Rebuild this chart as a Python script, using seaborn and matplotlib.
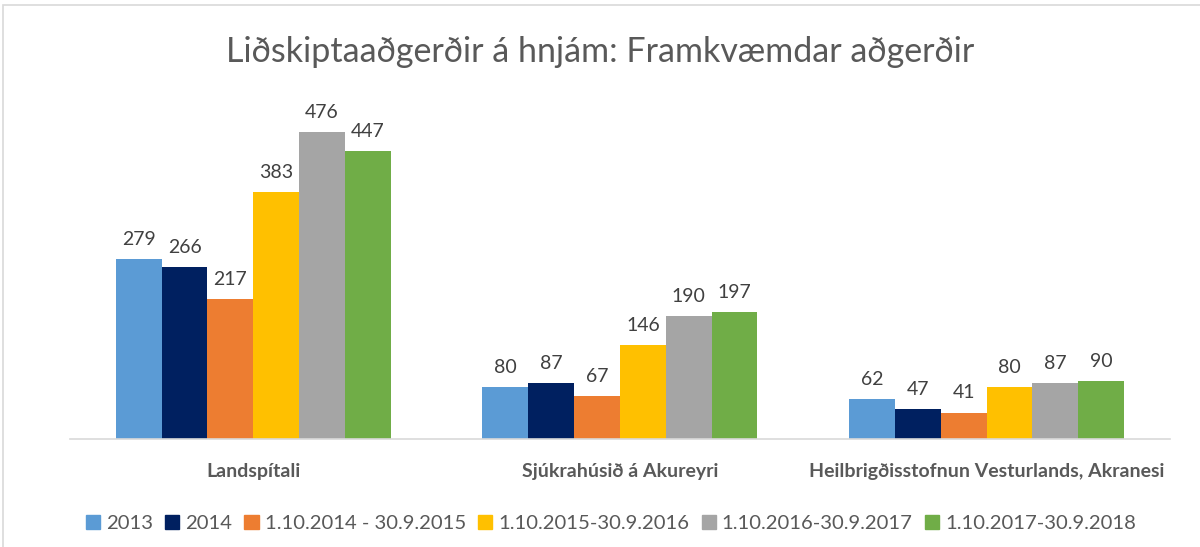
import pandas as pd
import matplotlib.pyplot as plt
import matplotlib.patches as mpatches
import seaborn as sns

# Data
categories = ["Landspítali", "Sjúkrahúsið á Akureyri", "Heilbrigðisstofnun Vesturlands, Akranesi"]
periods = ["2013", "2014", "1.10.2014 - 30.9.2015", "1.10.2015-30.9.2016",
           "1.10.2016-30.9.2017", "1.10.2017-30.9.2018"]
val_2013 = [279, 80, 62]
val_2014 = [266, 87, 47]
val_1415 = [217, 67, 41]
val_1516 = [383, 146, 80]
val_1617 = [476, 190, 87]
val_1718 = [447, 197, 90]
colors = ["#5B9BD5", "#002060", "#ED7D31", "#FFC000", "#A5A5A5", "#70AD47"]

series = [val_2013, val_2014, val_1415, val_1516, val_1617, val_1718]
rows = []
for p, vals in zip(periods, series):
    for c, v in zip(categories, vals):
        rows.append({"Stofnun": c, "Tímabil": p, "Fjöldi": v})
df = pd.DataFrame(rows)

sns.set_style("white")
plt.rcParams['font.family'] = ['Lato', 'DejaVu Sans']

fig = plt.figure(figsize=(12, 5.47), dpi=100)
ax = fig.add_axes([0.0583, 0.1974, 0.9167, 0.5896])

sns.barplot(data=df, x="Stofnun", y="Fjöldi", hue="Tímabil", hue_order=periods,
            order=categories, palette=colors, width=0.75, saturation=1,
            edgecolor="none", ax=ax, legend=False)

for cont in ax.containers:
    ax.bar_label(cont, padding=8, fontsize=14, color="#404040")

ax.set_ylim(0, 500)
ax.set_xlim(-0.5, 2.5)
ax.set_xlabel("")
ax.set_ylabel("")
ax.set_yticks([])
for s in ["top", "right", "left"]:
    ax.spines[s].set_visible(False)
ax.spines["bottom"].set_color("#D9D9D9")
ax.spines["bottom"].set_linewidth(1.2)
ax.tick_params(axis="x", length=0, pad=17)
for lbl in ax.get_xticklabels():
    lbl.set_fontweight("bold")
    lbl.set_fontsize(14)
    lbl.set_color("#595959")

fig.text(0.5, 0.905, "Liðskiptaaðgerðir á hnjám: Framkvæmdar aðgerðir",
         ha="center", va="center", fontsize=24.5, color="#595959")

handles = [mpatches.Patch(color=c, label=p) for c, p in zip(colors, periods)]
fig.legend(handles=handles, loc="center", bbox_to_anchor=(0.509, 0.043), ncol=6,
           frameon=False, fontsize=14.6, handlelength=0.7, handleheight=0.7,
           handletextpad=0.3, columnspacing=0.6, labelcolor="#595959")

# chart area border (cropped at right and bottom)
fig.patches.append(mpatches.Rectangle((3 / 1200, -0.1), 1.2, 1.1 - 5 / 547,
                                      transform=fig.transFigure, fill=False,
                                      edgecolor="#D9D9D9", linewidth=1.2))

fig.savefig("out.png", dpi=100)
